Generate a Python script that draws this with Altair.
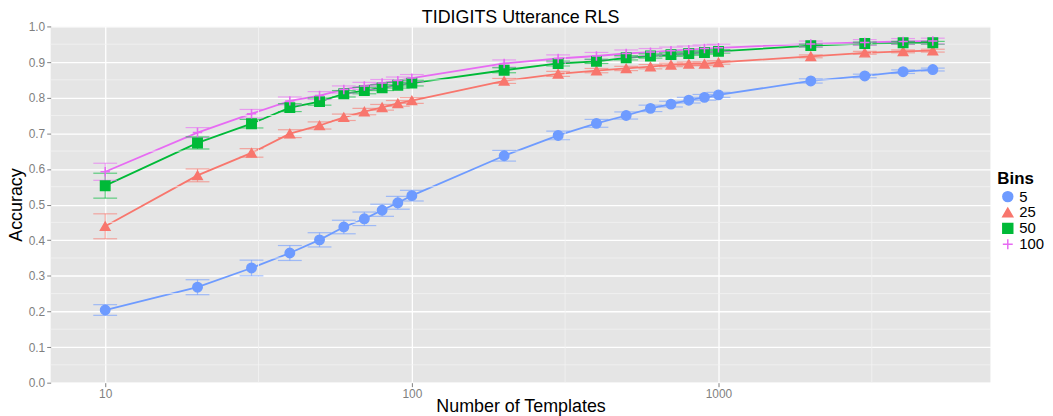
import altair as alt
import pandas as pd

# ---- data ----
templates = [10, 20, 30, 40, 50, 60, 70, 80, 90, 100,
             200, 300, 400, 500, 600, 700, 800, 900, 1000,
             2000, 3000, 4000, 5000]
bins_labels = ["5", "25", "50", "100"]

acc_5 = [0.204, 0.268, 0.322, 0.364, 0.401, 0.437, 0.460, 0.484, 0.505, 0.525,
         0.637, 0.694, 0.728, 0.750, 0.770, 0.782, 0.793, 0.801, 0.808,
         0.847, 0.861, 0.873, 0.879]
acc_25 = [0.439, 0.582, 0.645, 0.699, 0.722, 0.745, 0.761, 0.773, 0.784, 0.792,
          0.847, 0.867, 0.876, 0.882, 0.887, 0.892, 0.895, 0.895, 0.899,
          0.916, 0.926, 0.930, 0.932]
acc_50 = [0.553, 0.673, 0.727, 0.772, 0.789, 0.811, 0.820, 0.828, 0.835, 0.841,
          0.877, 0.896, 0.902, 0.912, 0.917, 0.921, 0.924, 0.927, 0.930,
          0.946, 0.952, 0.954, 0.954]
acc_100 = [0.592, 0.702, 0.755, 0.791, 0.806, 0.823, 0.833, 0.841, 0.848, 0.855,
           0.896, 0.910, 0.917, 0.924, 0.928, 0.932, 0.935, 0.938, 0.940,
           0.951, 0.955, 0.958, 0.959]

err_5 = [0.015, 0.021, 0.022, 0.021, 0.020, 0.019, 0.019, 0.017, 0.018, 0.015,
         0.015, 0.012, 0.011, 0.010, 0.009, 0.008, 0.008, 0.008, 0.007,
         0.006, 0.005, 0.005, 0.004]
err_25 = [0.035, 0.018, 0.012, 0.011, 0.010, 0.009, 0.009, 0.008, 0.008, 0.008,
          0.007, 0.007, 0.006, 0.006, 0.006, 0.005, 0.005, 0.005, 0.005,
          0.004, 0.004, 0.004, 0.004]
err_50 = [0.035, 0.017, 0.012, 0.011, 0.010, 0.009, 0.009, 0.008, 0.008, 0.008,
          0.007, 0.007, 0.006, 0.006, 0.006, 0.005, 0.005, 0.005, 0.005,
          0.004, 0.004, 0.004, 0.004]
err_100 = [0.024, 0.014, 0.012, 0.011, 0.011, 0.010, 0.010, 0.010, 0.010, 0.010,
           0.010, 0.010, 0.010, 0.010, 0.010, 0.010, 0.010, 0.010, 0.010,
           0.008, 0.008, 0.008, 0.008]

x_major = [10, 100, 1000]
x_minor = [31.62, 316.2, 3162]
y_major = [0.0, 0.1, 0.2, 0.3, 0.4, 0.5, 0.6, 0.7, 0.8, 0.9, 1.0]
y_minor = [0.05, 0.15, 0.25, 0.35, 0.45, 0.55, 0.65, 0.75, 0.85, 0.95]

colors = ["#6E9BFF", "#F8766D", "#00BA38", "#E76BF3"]
fills = ["#6E9BFF", "#F8766D", "#00BA38", "transparent"]
plus_path = "M-1,0L1,0M0,-1L0,1"
shapes = ["circle", "triangle-up", "square", plus_path]

rows = []
for lab, accs, errs in zip(bins_labels, [acc_5, acc_25, acc_50, acc_100],
                           [err_5, err_25, err_50, err_100]):
    for t, a, e in zip(templates, accs, errs):
        rows.append({"templates": t, "acc": a, "lo": a - e, "hi": a + e, "bins": lab})
df = pd.DataFrame(rows)

FONT = "Liberation Sans"
xscale = alt.Scale(type="log", domain=[6.64, 7706], nice=False)
yscale = alt.Scale(domain=[0, 1], nice=False, zero=False)
# legend-bearing scales (stroke / fill / shape) use the natural order
sscale = alt.Scale(domain=bins_labels, range=colors)
# the colour scale of lines and error bars (no legend) is listed in reverse
# order so that its disabled legend is not merged with the visible one
cscale = alt.Scale(domain=bins_labels[::-1], range=colors[::-1])

x_axis = alt.Axis(values=x_major, format="d", title="Number of Templates",
                  grid=True, gridColor="white", gridWidth=1.3,
                  labelColor="#7F7F7F", labelFontSize=12, labelFont=FONT,
                  tickColor="#7F7F7F", tickSize=4, labelPadding=2,
                  labelOverlap=False, labelFlush=False,
                  domain=False, titleFont=FONT, titleFontSize=18,
                  titleFontWeight="normal", titleColor="black",
                  titleY=29, titleBaseline="alphabetic")
y_axis = alt.Axis(values=y_major, format=".1f", title="Accuracy",
                  grid=True, gridColor="white", gridWidth=1.3,
                  labelColor="#7F7F7F", labelFontSize=12, labelFont=FONT,
                  tickColor="#7F7F7F", tickSize=4, labelPadding=2,
                  labelOverlap=False, labelFlush=False,
                  domain=False, titleFont=FONT, titleFontSize=18,
                  titleFontWeight="normal", titleColor="black",
                  titleX=-29, titleBaseline="alphabetic")

leg = alt.Legend(title="Bins", orient="none", legendX=954, legendY=146,
                 titleFont=FONT, titleFontSize=17, titleFontWeight="bold",
                 titleColor="black", labelFont=FONT, labelFontSize=15,
                 labelColor="black", titlePadding=1, rowPadding=-4,
                 symbolOffset=3, labelOffset=4,
                 symbolStrokeWidth=1.5, symbolSize=100)

base = alt.Chart(df)

lines = base.mark_line(strokeWidth=1.8).encode(
    x=alt.X("templates:Q", scale=xscale, axis=x_axis),
    y=alt.Y("acc:Q", scale=yscale, axis=y_axis),
    color=alt.Color("bins:N", scale=cscale, legend=None),
    detail="bins:N")

minor_x = alt.Chart(pd.DataFrame({"v": x_minor})).mark_rule(
    color="#F2F2F2", strokeWidth=0.8).encode(x=alt.X("v:Q", scale=xscale, axis=x_axis))
minor_y = alt.Chart(pd.DataFrame({"v": y_minor})).mark_rule(
    color="#F2F2F2", strokeWidth=0.8).encode(y=alt.Y("v:Q", scale=yscale, axis=y_axis))

err_rule = base.mark_rule(strokeWidth=1.2, opacity=0.6).encode(
    x=alt.X("templates:Q", scale=xscale, axis=x_axis),
    y=alt.Y("lo:Q", scale=yscale, axis=y_axis), y2="hi:Q",
    color=alt.Color("bins:N", scale=cscale, legend=None))
cap_lo = base.mark_tick(orient="horizontal", thickness=1.2, opacity=0.6).encode(
    x=alt.X("templates:Q", scale=xscale, axis=x_axis),
    y=alt.Y("lo:Q", scale=yscale, axis=y_axis),
    size=alt.value(24),
    color=alt.Color("bins:N", scale=cscale, legend=None))
cap_hi = base.mark_tick(orient="horizontal", thickness=1.2, opacity=0.6).encode(
    x=alt.X("templates:Q", scale=xscale, axis=x_axis),
    y=alt.Y("hi:Q", scale=yscale, axis=y_axis),
    size=alt.value(24),
    color=alt.Color("bins:N", scale=cscale, legend=None))

points = base.mark_point(strokeWidth=1.5, opacity=1, size=90).encode(
    x=alt.X("templates:Q", scale=xscale, axis=x_axis),
    y=alt.Y("acc:Q", scale=yscale, axis=y_axis),
    shape=alt.Shape("bins:N", scale=alt.Scale(domain=bins_labels, range=shapes), legend=leg),
    stroke=alt.Stroke("bins:N", scale=sscale, legend=leg),
    fill=alt.Fill("bins:N", scale=alt.Scale(domain=bins_labels, range=fills), legend=leg),
)

chart = alt.layer(lines, minor_x, minor_y, err_rule, cap_lo, cap_hi, points).properties(
    width=947, height=359,
    title=alt.TitleParams("TIDIGITS Utterance RLS", font=FONT, fontSize=18,
                          fontWeight="normal", color="black", anchor="middle",
                          offset=-7, frame="group"),
    padding={"left": 0, "top": 0, "right": 0, "bottom": 0},
).configure_view(fill="#E5E5E5", stroke=None)

chart.save("out.html", embed_options={"renderer": "svg", "actions": False})
